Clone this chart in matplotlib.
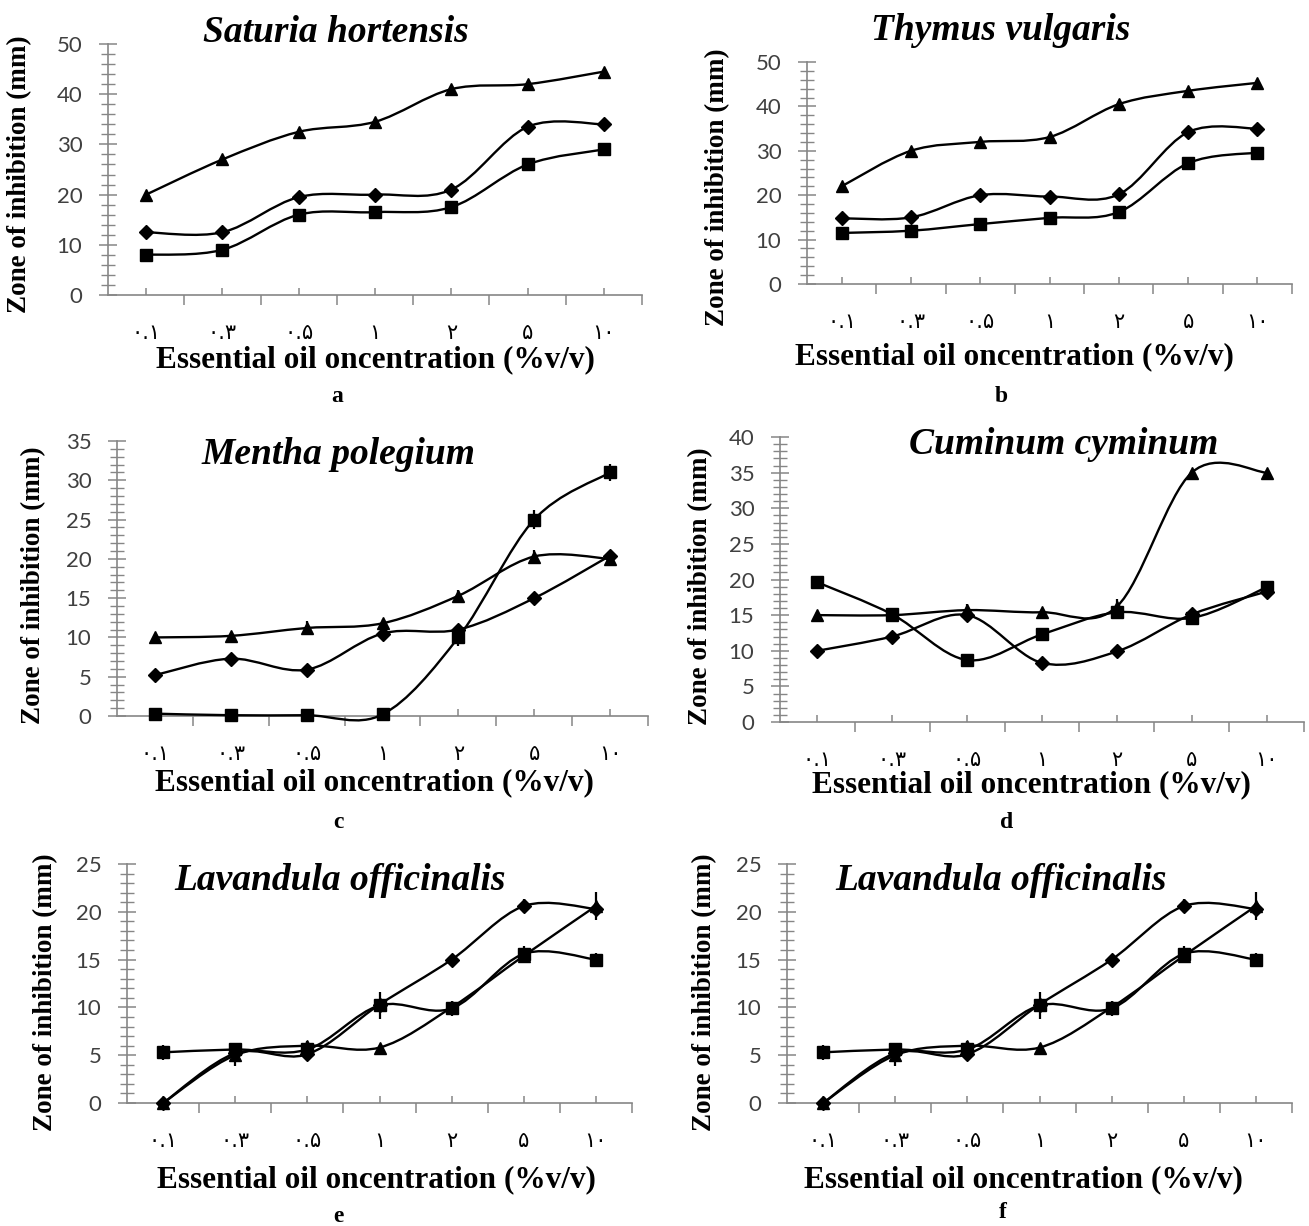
import matplotlib
matplotlib.use("Agg")
import matplotlib.pyplot as plt
import matplotlib.ticker as ticker
from matplotlib.path import Path
from matplotlib.patches import PathPatch

# concentration categories (Persian digits as in the original)
categories = ["۰.۱", "۰.۳", "۰.۵", "۱", "۲", "۵", "۱۰"]

# a - Saturia hortensis
a_diamond = [12.5, 12.5, 19.5, 20, 21, 33.5, 34]
a_square = [8, 9, 16, 16.5, 17.5, 26, 29]
a_triangle = [20, 27, 32.5, 34.5, 41, 42, 44.5]

# b - Thymus vulgaris
b_diamond = [14.8, 15, 20, 19.7, 20.2, 34.2, 35]
b_square = [11.5, 12, 13.5, 14.9, 16.2, 27.2, 29.6]
b_triangle = [22, 30, 32, 33.1, 40.5, 43.5, 45.3]

# c - Mentha polegium
c_diamond = [5.2, 7.3, 5.9, 10.5, 11, 15, 20.4]
c_square = [0.3, 0.1, 0.1, 0.2, 10, 25, 31]
c_triangle = [10, 10.2, 11.2, 11.8, 15.3, 20.3, 20]
c_diamond_err = [0.3, 0.3, 0.3, 0.7, 0.6, 0.6, 0.5]
c_square_err = [0.2, 0.2, 0.2, 0.2, 1.1, 1.2, 1.1]
c_triangle_err = [0.3, 0.3, 0.9, 0.6, 0.7, 0.8, 0.5]

# d - Cuminum cyminum
d_diamond = [10, 12, 15, 8.3, 9.9, 15.1, 18.3]
d_square = [19.6, 15.1, 8.7, 12.3, 15.4, 14.6, 18.9]
d_triangle = [15, 15, 15.7, 15.4, 16.2, 35, 35]
d_diamond_err = [0.3, 0.4, 0.5, 0.3, 0.4, 0.5, 0.4]
d_square_err = [0.6, 0.4, 0.4, 0.8, 0.7, 0.5, 0.6]
d_triangle_err = [0.4, 0.3, 0.8, 0.5, 1.0, 0.4, 0.4]

# e / f - Lavandula officinalis
e_diamond = [0, 5.2, 5.1, 10.3, 15, 20.6, 20.3]
e_square = [5.3, 5.6, 5.6, 10.2, 9.9, 15.6, 15]
e_triangle = [0, 5, 6, 5.8, 10, 15.4, 20.6]
e_diamond_err = [0.2, 0.5, 0.5, 0.6, 0.3, 0.7, 0.5]
e_square_err = [0.8, 0.7, 0.5, 1.4, 0.8, 0.8, 0.7]
e_triangle_err = [0.2, 1.1, 0.5, 0.3, 0.5, 0.6, 1.5]

W, H = 1309, 1226
SERIF = "Liberation Serif"
SANS = "Lato"
AXIS_GRAY = "#868686"

fig = plt.figure(figsize=(W / 100, H / 100), dpi=100)


def fx(px):
    return px / W


def fy(py):
    return 1 - py / H


def smooth_path(x, y):
    # Excel-like smoothed line as cubic bezier segments
    pts = list(zip(x, y))
    n = len(pts)
    verts = [pts[0]]
    codes = [Path.MOVETO]
    for i in range(n - 1):
        p0 = pts[i - 1] if i > 0 else pts[i]
        p1 = pts[i]
        p2 = pts[i + 1]
        p3 = pts[i + 2] if i + 2 < n else pts[i + 1]
        c1 = (p1[0] + (p2[0] - p0[0]) / 6, p1[1] + (p2[1] - p0[1]) / 6)
        c2 = (p2[0] - (p3[0] - p1[0]) / 6, p2[1] - (p3[1] - p1[1]) / 6)
        verts += [c1, c2, p2]
        codes += [Path.CURVE4] * 3
    return Path(verts, codes)


def draw_panel(box, ymax, major, minor, series, title, title_xy, ylab_xy,
               xlab_xy, letter, letter_xy):
    left, right, y0, y1 = box
    ax = fig.add_axes([fx(left), fy(y0), fx(right - left), (y0 - y1) / H])
    x = list(range(len(categories)))

    for vals, marker, ms, err in series:
        ax.add_patch(PathPatch(smooth_path(x, vals), fill=False, edgecolor="black",
                               linewidth=1.7, clip_on=False, zorder=3))
        if err is not None:
            ax.errorbar(x, vals, yerr=err, fmt="none", ecolor="black",
                        elinewidth=1.6, capsize=0, clip_on=False, zorder=4)
        ax.plot(x, vals, linestyle="none", marker=marker, markersize=ms,
                color="black", clip_on=False, zorder=5)

    ax.set_xlim(-0.5, len(categories) - 0.5)
    ax.set_ylim(0, ymax)

    for side in ["top", "right"]:
        ax.spines[side].set_visible(False)
    for side in ["left", "bottom"]:
        ax.spines[side].set_color(AXIS_GRAY)
        ax.spines[side].set_linewidth(1.2)

    ax.yaxis.set_major_locator(ticker.MultipleLocator(major))
    ax.yaxis.set_minor_locator(ticker.MultipleLocator(minor))
    ax.tick_params(axis="y", which="major", direction="inout", length=13,
                   width=1.1, color=AXIS_GRAY, pad=12, labelsize=16,
                   labelcolor="#404040")
    ax.tick_params(axis="y", which="minor", direction="inout", length=10,
                   width=1.0, color=AXIS_GRAY)
    for lab in ax.get_yticklabels():
        lab.set_family(SANS)

    ax.set_xticks([i + 0.5 for i in x])
    ax.set_xticklabels([])
    ax.set_xticks(x, minor=True)
    ax.set_xticklabels(categories, minor=True, family="DejaVu Sans", fontsize=15)
    ax.tick_params(axis="x", which="major", direction="out", length=7,
                   width=1.1, color=AXIS_GRAY)
    ax.tick_params(axis="x", which="minor", direction="in", length=5,
                   width=1.1, color=AXIS_GRAY, pad=20)

    fig.text(fx(title_xy[0]), fy(title_xy[1]), title, ha="center", va="center",
             fontsize=27, fontweight="bold", fontstyle="italic", family=SERIF)
    fig.text(fx(ylab_xy[0]), fy(ylab_xy[1]), "Zone of inhibition (mm)",
             rotation=90, ha="center", va="center", fontsize=19.5,
             fontweight="bold", family=SERIF)
    fig.text(fx(xlab_xy[0]), fy(xlab_xy[1]), "Essential oil oncentration (%v/v)",
             ha="center", va="center", fontsize=22.5, fontweight="bold",
             family=SERIF)
    fig.text(fx(letter_xy[0]), fy(letter_xy[1]), letter, ha="center",
             va="center", fontsize=17, fontweight="bold", family=SERIF)
    return ax


draw_panel((108, 642, 295, 44), 50, 10, 2,
           [(a_triangle, "^", 9, None), (a_diamond, "D", 7.5, None),
            (a_square, "s", 9, None)],
           "Saturia hortensis", (336, 32), (20, 174), (375, 360), "a", (337, 397))

draw_panel((807, 1292, 284, 62), 50, 10, 2,
           [(b_triangle, "^", 9, None), (b_diamond, "D", 7.5, None),
            (b_square, "s", 9, None)],
           "Thymus vulgaris", (1001, 31), (718, 187), (1014, 357), "b", (1001, 397))

draw_panel((117, 648, 716, 441), 35, 5, 1,
           [(c_triangle, "^", 9, c_triangle_err), (c_diamond, "D", 7.5, c_diamond_err),
            (c_square, "s", 9, c_square_err)],
           "Mentha polegium", (338, 455), (34, 585), (374, 783), "c", (338, 823))

draw_panel((780, 1304, 722, 437), 40, 5, 1,
           [(d_triangle, "^", 9, d_triangle_err), (d_diamond, "D", 7.5, d_diamond_err),
            (d_square, "s", 9, d_square_err)],
           "Cuminum cyminum", (1064, 444), (701, 586), (1031, 785), "d", (1007, 823))

draw_panel((127, 632, 1103, 864), 25, 5, 1,
           [(e_triangle, "^", 9, e_triangle_err), (e_diamond, "D", 7.5, e_diamond_err),
            (e_square, "s", 9, e_square_err)],
           "Lavandula officinalis", (340, 880), (46, 992), (376, 1180), "e", (338, 1217))

draw_panel((787, 1292, 1103, 864), 25, 5, 1,
           [(e_triangle, "^", 9, e_triangle_err), (e_diamond, "D", 7.5, e_diamond_err),
            (e_square, "s", 9, e_square_err)],
           "Lavandula officinalis", (1001, 880), (705, 992), (1023, 1180), "f", (1003, 1212))

fig.savefig("out.png", dpi=100)
